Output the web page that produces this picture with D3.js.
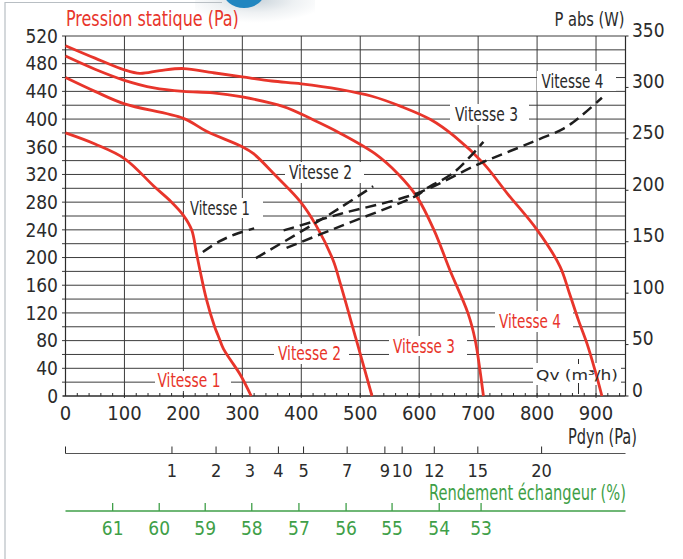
<!DOCTYPE html>
<html><head><meta charset="utf-8">
<script src="https://cdn.jsdelivr.net/npm/d3@7/dist/d3.min.js"></script>
<style>body{margin:0;background:#fff}svg{display:block}</style>
</head><body>
<svg id="c" width="683" height="559"></svg>
<script>
// ---------- data ----------
const qvTicks = [0,100,200,300,400,500,600,700,800,900];
const paTicks = [0,40,80,120,160,200,240,280,320,360,400,440,480,520];
const paGrid = [20,40,60,80,100,120,140,160,180,200,220,240,260,280,300,320,340,360,380,400,420,440,460,480,500,520];
const wTicks = [0,50,100,150,200,250,300,350];
const pdynTicks = [1,2,3,4,5,7,9,10,12,15,20];
const pdynLabels = ["1","2","3","4","5","7","9","10","12","15","20"];
const rendTicks = [61,60,59,58,57,56,55,54,53];
const rendQv = [80,159,237,316,396,476,554,634,705];
const qvAtPdyn1 = 180.6;

// static pressure curves [Qv, Pa]
const v1Pa = [[0,380],[50,364],[100,343],[150,303],[180,280],[200,261],[214,240],[222,207],[228,182],[239,140],[253,100],[260,85],[268,68],[280,52],[297,30],[315,0]];
const v2Pa = [[0,460],[50,440],[100,422],[200,401],[240,382],[300,360],[319,350],[358,317],[398,281],[426,245],[454,196],[466,163],[493,82],[520,0]];
const v3Pa = [[0,491],[50,472],[100,456],[150,445],[200,440],[250,438],[300,432],[370,418],[420,399],[465,380],[525,350],[565,320],[596,288],[625,240],[652,182],[683,119],[695,81],[703,38],[709,0]];
const v4Pa = [[0,506],[50,488],[100,471],[126,466],[160,470],[200,473],[250,467],[300,461],[350,455],[400,451],[465,443],[520,433],[570,418],[620,399],[660,375],[709,336],[750,292],[800,240],[839,187],[855,148],[870,110],[885,75],[898,38],[910,0]];
// absorbed power curves [Qv, W]
const v1W = [[233,140],[260,150],[287,157],[320,163]];
const v2W = [[323,134],[400,160],[466,183],[522,204]];
const v3W = [[375,144],[466,165],[596,195],[613,202],[658,217],[709,247]];
const v4W = [[370,161],[466,177],[596,197],[703,226],[771,242],[805,250],[845,260],[870,270],[910,290]];

// ---------- drawing ----------
const RED = "#e8352b", GREEN = "#3f9f48", INK = "#2b2b2b";
const F = '"Liberation Sans Narrow","Arial Narrow","DejaVu Sans Condensed",sans-serif';
const svg = d3.select("#c");

const x = d3.scaleLinear().domain([0,950]).range([65.5,625.5]);
const y = d3.scaleLinear().domain([0,520]).range([396,36]);
const yW = d3.scaleLinear().domain([0,350]).range([396,36]);
const xP = d3.scaleSqrt().domain([0, Math.pow(950/qvAtPdyn1,2)]).range([x(0), x(950)]);

// decoration: frame + top badge
const defs = svg.append("defs");
const rg = defs.append("radialGradient").attr("id","glow").attr("cx","50%").attr("cy","0%").attr("r","60%");
rg.append("stop").attr("offset","0%").attr("stop-color","#c9d3da");
rg.append("stop").attr("offset","55%").attr("stop-color","#eef1f3");
rg.append("stop").attr("offset","100%").attr("stop-color","#ffffff");
svg.append("rect").attr("x",195).attr("y",0).attr("width",120).attr("height",38).attr("fill","url(#glow)");
svg.append("ellipse").attr("cx",244).attr("cy",-9).attr("rx",21).attr("ry",17).attr("fill","#2186c0");
svg.append("line").attr("x1",5).attr("x2",5).attr("y1",2).attr("y2",559).attr("stroke","#b8bec3").attr("stroke-width",1.2);
svg.append("line").attr("x1",5).attr("x2",222).attr("y1",2.5).attr("y2",2.5).attr("stroke","#b8bec3").attr("stroke-width",1.2);

// grid
const g = svg.append("g");
g.selectAll(".hg").data(paGrid).join("line")
  .attr("x1",62).attr("x2",x(950)).attr("y1",d=>y(d)).attr("y2",d=>y(d))
  .attr("stroke","#3c3c3c").attr("stroke-width",1);
g.selectAll(".vg").data(qvTicks.slice(1)).join("line")
  .attr("x1",d=>x(d)).attr("x2",d=>x(d)).attr("y1",y(520)).attr("y2",y(0)+2)
  .attr("stroke","#3c3c3c").attr("stroke-width",1);
// minor ticks on Qv axis
g.selectAll(".mt").data(d3.range(0,951,20)).join("line")
  .attr("x1",d=>x(d)).attr("x2",d=>x(d)).attr("y1",y(0)-3).attr("y2",y(0))
  .attr("stroke",INK).attr("stroke-width",1);
// frame axes
g.append("line").attr("x1",x(0)).attr("x2",x(0)).attr("y1",y(520)).attr("y2",y(0)).attr("stroke",INK).attr("stroke-width",1.2);
g.append("line").attr("x1",x(950)).attr("x2",x(950)).attr("y1",y(520)).attr("y2",y(0)).attr("stroke",INK).attr("stroke-width",1.2);
g.append("line").attr("x1",x(0)-3).attr("x2",x(950)).attr("y1",y(0)).attr("y2",y(0)).attr("stroke",INK).attr("stroke-width",1.4);
// right ticks
g.selectAll(".rt").data(wTicks).join("line")
  .attr("x1",x(950)).attr("x2",x(950)+3).attr("y1",d=>yW(d)).attr("y2",d=>yW(d)).attr("stroke",INK);

// white boxes (label knock-outs)
const boxes = [
  [185,198,78,20],[285,162,79,21],[450,104,79,21],[537,71,79,20],
  [155,371,76,20],[274,344,75,20],[389,336,78,20],[495,311,78,21],
  [533,363,88,22]
];
svg.selectAll(".bx").data(boxes).join("rect")
  .attr("x",d=>d[0]).attr("y",d=>d[1]).attr("width",d=>d[2]).attr("height",d=>d[3]).attr("fill","#fff");
// little vertical mark near Qv label
svg.append("line").attr("x1",578.5).attr("x2",578.5).attr("y1",359).attr("y2",364).attr("stroke",INK);
svg.append("line").attr("x1",578.5).attr("x2",578.5).attr("y1",383).attr("y2",394).attr("stroke",INK);

// curves
const line = d3.line().x(d=>x(d[0])).y(d=>y(d[1])).curve(d3.curveCatmullRom.alpha(0.5));
const lineW = d3.line().x(d=>x(d[0])).y(d=>yW(d[1])).curve(d3.curveCatmullRom.alpha(0.5));
svg.selectAll(".pc").data([v1Pa,v2Pa,v3Pa,v4Pa]).join("path")
  .attr("d",line).attr("fill","none").attr("stroke",RED).attr("stroke-width",2.8).attr("stroke-linejoin","round");
svg.selectAll(".wc").data([v1W,v2W,v3W,v4W]).join("path")
  .attr("d",lineW).attr("fill","none").attr("stroke","#1e1e1e").attr("stroke-width",2.5).attr("stroke-dasharray","11,6");

// text squeezed horizontally to a target width (scale transform, so boxes stay true)
function txt(s, px, py, opts) {
  const t = svg.append("text").attr("x",0).attr("y",0).text(s)
    .attr("font-family",opts.ff||F).attr("font-size",opts.fs||19).attr("fill",opts.fill||INK);
  const L = t.node().getComputedTextLength();
  const k = opts.tl ? opts.tl / L : 1;
  const x0 = opts.anchor === "end" ? px - L*k : px;
  t.attr("transform",`translate(${x0},${py}) scale(${k},1)`);
  return t;
}

// axis labels
svg.selectAll(".yl").data(paTicks).join("text")
  .attr("x",58).attr("y",d=>y(d)+6.8).attr("text-anchor","end")
  .attr("font-family",F).attr("font-size",19).attr("fill",INK).text(d=>d);
svg.selectAll(".xl").data(qvTicks).join("text")
  .attr("x",d=>x(d)).attr("y",420).attr("text-anchor","middle")
  .attr("font-family",F).attr("font-size",20).attr("fill",INK).text(d=>d);
svg.selectAll(".rl").data(wTicks).join("text")
  .attr("x",632).attr("y",d=>yW(d)+0.5).attr("text-anchor","start")
  .attr("font-family",F).attr("font-size",19).attr("fill",INK).text(d=>d);

txt("Pression statique (Pa)", 66, 26, {fs:21, fill:RED, tl:173});
txt("P abs (W)", 624.5, 25.5, {fs:20, tl:70, anchor:"end"});
txt("Pdyn (Pa)", 568, 444, {fs:21, tl:69});
txt("Qv (m³/h)", 536, 379.5, {ff:'"DejaVu Sans",sans-serif', fs:14.5, tl:82});

// speed labels
txt("Vitesse 1", 190, 214.5, {tl:60});
txt("Vitesse 2", 289, 179, {tl:63});
txt("Vitesse 3", 455, 121, {tl:63});
txt("Vitesse 4", 541.5, 88, {tl:62});
txt("Vitesse 1", 157.5, 386.5, {fill:RED, tl:63});
txt("Vitesse 2", 278, 360, {fill:RED, tl:63});
txt("Vitesse 3", 393, 352.5, {fill:RED, tl:62});
txt("Vitesse 4", 499, 328, {fill:RED, tl:62});

// Pdyn axis
const pyA = 453.5;
svg.append("line").attr("x1",x(0)).attr("x2",x(950)).attr("y1",pyA).attr("y2",pyA).attr("stroke","#555").attr("stroke-width",1.2);
svg.append("line").attr("x1",x(0)).attr("x2",x(0)).attr("y1",pyA-7).attr("y2",pyA).attr("stroke",INK);
svg.selectAll(".pt").data(pdynTicks).join("line")
  .attr("x1",d=>xP(d)).attr("x2",d=>xP(d)).attr("y1",pyA-7).attr("y2",pyA).attr("stroke",INK);
svg.selectAll(".pl").data(pdynTicks).join("text")
  .attr("x",d=>xP(d)).attr("y",477).attr("text-anchor","middle")
  .attr("font-family",F).attr("font-size",18).attr("fill",INK).text((d,i)=>pdynLabels[i]);

// efficiency axis
const gyA = 511;
svg.append("line").attr("x1",x(0)).attr("x2",x(950)).attr("y1",gyA).attr("y2",gyA).attr("stroke",GREEN).attr("stroke-width",1.6);
svg.selectAll(".gt").data(rendQv).join("line")
  .attr("x1",d=>x(d)).attr("x2",d=>x(d)).attr("y1",gyA-8).attr("y2",gyA).attr("stroke",GREEN).attr("stroke-width",1.3);
svg.selectAll(".gl").data(rendTicks).join("text")
  .attr("x",(d,i)=>x(rendQv[i])).attr("y",535).attr("text-anchor","middle")
  .attr("font-family",F).attr("font-size",19).attr("fill",GREEN).text(d=>d);
txt("Rendement échangeur (%)", 429, 500, {fs:21, fill:GREEN, tl:197});
</script>
</body></html>
